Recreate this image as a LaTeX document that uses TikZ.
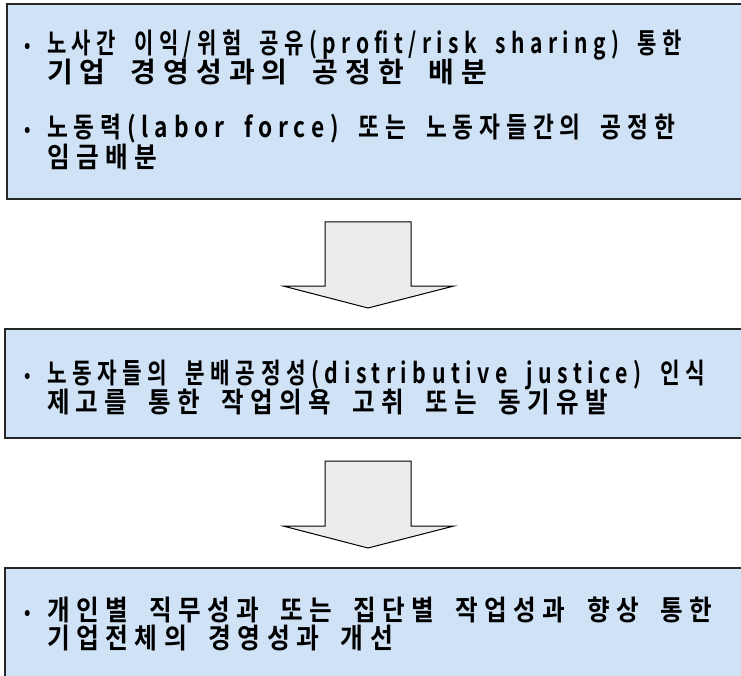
\documentclass[tikz,border=0pt]{standalone}
\usepackage{fontspec}
\usepackage{graphicx}
\newfontfamily\kr[BoldFont={Noto Sans CJK KR Bold},BoldFeatures={FakeStretch=0.85},FakeStretch=0.85,LetterSpace=22,WordSpace=1.8]{Noto Sans CJK KR}
\definecolor{boxblue}{RGB}{208,226,246}
\definecolor{arrowgrey}{RGB}{236,236,236}
\newcommand{\fitline}[2]{\resizebox{#1}{\height}{#2}}
\tikzset{
  panel/.style={draw=black!85, line width=1.3pt, fill=boxblue, inner sep=0pt, outer sep=0pt, anchor=north west},
  flowarrow/.style={draw=black, line width=1pt, fill=arrowgrey, line join=miter},
  txt/.style={anchor=base west, inner sep=0pt, outer sep=0pt, font=\kr\bfseries\fontsize{28}{28}\selectfont},
  bul/.style={anchor=base, inner sep=0pt, outer sep=0pt, font=\kr\bfseries\fontsize{20}{20}\selectfont},
}
\begin{document}
\begin{tikzpicture}[x=1pt,y=-1pt]
\useasboundingbox (0,0) rectangle (741,676);
\fill[white] (0,0) rectangle (741,676);
\begin{scope}
\clip (0,0) rectangle (741,676);
% panels
\node[panel, minimum width=740pt, minimum height=195pt] (b1) at (7,4) {};
\node[panel, minimum width=745pt, minimum height=109pt] (b2) at (5,329) {};
\node[panel, minimum width=745pt, minimum height=120pt] (b3) at (5,568) {};
\end{scope}
% arrows
\coordinate (a1) at (368,222);
\coordinate (a2) at (368,461);
\draw[flowarrow] (a1) ++(-43,0) -- ++(86,0) -- ++(0,64) -- ++(43,0) -- ++(-86,22) -- ++(-85,-22) -- ++(42,0) -- cycle;
\draw[flowarrow] (a2) ++(-43,0) -- ++(86,0) -- ++(0,65) -- ++(43,0) -- ++(-86,22) -- ++(-85,-22) -- ++(42,0) -- cycle;
% box 1 text
\node[bul] (p1) at (28,53) {•};
\node[txt] (t1) at (47,54) {\fitline{635pt}{노사간 이익/위험 공유(profit/risk sharing) 통한}};
\node[txt] (t2) at (47,83) {\fitline{440pt}{기업 경영성과의 공정한 배분}};
\node[bul] (p2) at (28,137) {•};
\node[txt] (t3) at (47,138) {\fitline{628pt}{노동력(labor force) 또는 노동자들간의 공정한}};
\node[txt] (t4) at (47,168) {\fitline{110pt}{임금배분}};
% box 2 text
\node[bul] (p3) at (28,382) {•};
\node[txt] (t5) at (47,383) {\fitline{658pt}{노동자들의 분배공정성(distributive justice) 인식}};
\node[txt] (t6) at (47,412) {\fitline{561pt}{제고를 통한 작업의욕 고취 또는 동기유발}};
% box 3 text
\node[bul] (p4) at (28,619) {•};
\node[txt] (t7) at (47,620) {\fitline{665pt}{개인별 직무성과 또는 집단별 작업성과 향상 통한}};
\node[txt] (t8) at (47,648) {\fitline{346pt}{기업전체의 경영성과 개선}};
\end{tikzpicture}
\end{document}
